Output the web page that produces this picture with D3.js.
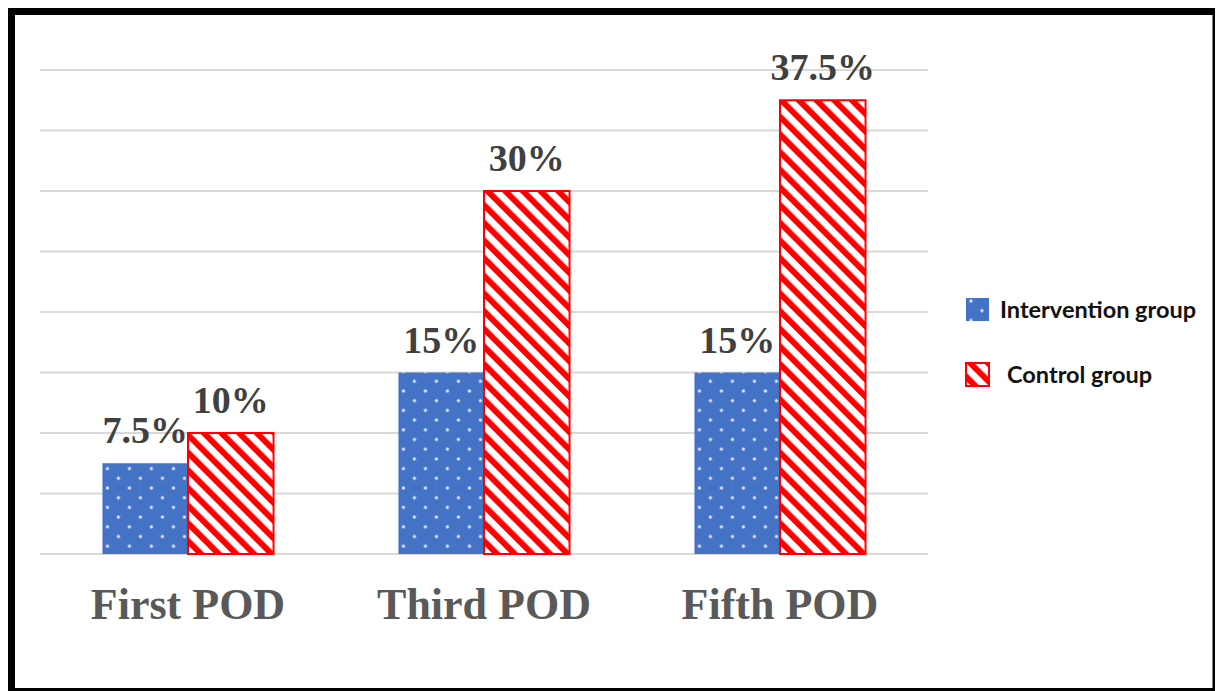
<!DOCTYPE html>
<html>
<head>
<meta charset="utf-8">
<script src="https://cdn.jsdelivr.net/npm/d3@7"></script>
<style>
  body { margin: 0; background: #fff; }
  svg { display: block; }
</style>
</head>
<body>
<svg id="chart" width="1216" height="691"></svg>
<script>
// data
var categories = ["First POD", "Third POD", "Fifth POD"];
var seriesNames = ["Intervention group", "Control group"];
var intervention = [7.5, 15, 15];
var control = [10, 30, 37.5];
var valueLabels = [["7.5%", "15%", "15%"], ["10%", "30%", "37.5%"]];
var gridTicks = [0, 5, 10, 15, 20, 25, 30, 35, 40];

var svg = d3.select("svg#chart"),
  width = +svg.attr("width"),
  height = +svg.attr("height");

var defs = svg.append("defs");

// blue with small white dots
var dots = defs.append("pattern")
  .attr("id", "dots")
  .attr("patternUnits", "userSpaceOnUse")
  .attr("width", 22)
  .attr("height", 19.4)
  .attr("x", 5)
  .attr("y", 3);
dots.append("rect").attr("width", 22).attr("height", 19.4).attr("fill", "#4472c4");
[[0, 0], [22, 0], [0, 19.4], [22, 19.4], [11, 9.7]].forEach(function(p) {
  dots.append("circle").attr("cx", p[0]).attr("cy", p[1]).attr("r", 1.6)
    .attr("fill", "#fff").attr("opacity", 0.85);
});

// red diagonal hatch
var hatch = defs.append("pattern")
  .attr("id", "hatch")
  .attr("patternUnits", "userSpaceOnUse")
  .attr("width", 12.5)
  .attr("height", 12.5)
  .attr("patternTransform", "rotate(-45)");
hatch.append("rect").attr("width", 12.5).attr("height", 12.5).attr("fill", "#fff");
hatch.append("rect").attr("width", 6).attr("height", 12.5).attr("fill", "#ff0000");

var y = d3.scaleLinear().domain([0, 40]).range([554, 70]);

var x0 = d3.scaleBand()
  .domain(categories)
  .range([40, 928])
  .paddingInner(0.422)
  .paddingOuter(0.211);

var x1 = d3.scaleBand()
  .domain(seriesNames)
  .range([0, x0.bandwidth()]);

// gridlines
svg.append("g")
  .selectAll("line")
  .data(gridTicks)
  .enter().append("line")
  .attr("x1", 40)
  .attr("x2", 928)
  .attr("y1", function(d) { return y(d); })
  .attr("y2", function(d) { return y(d); })
  .attr("stroke", "#d9d9d9")
  .attr("stroke-width", 2);

var rows = categories.map(function(c, i) {
  return [
    { cat: c, s: seriesNames[0], v: intervention[i], label: valueLabels[0][i] },
    { cat: c, s: seriesNames[1], v: control[i], label: valueLabels[1][i] }
  ];
});

var groups = svg.append("g")
  .selectAll("g")
  .data(rows)
  .enter().append("g")
  .attr("transform", function(d) { return "translate(" + x0(d[0].cat) + ",0)"; });

groups.selectAll("rect")
  .data(function(d) { return d; })
  .enter().append("rect")
  .attr("x", function(d) { return x1(d.s); })
  .attr("y", function(d) { return y(d.v); })
  .attr("width", x1.bandwidth())
  .attr("height", function(d) { return y(0) - y(d.v); })
  .attr("fill", function(d) { return d.s == seriesNames[0] ? "url(#dots)" : "url(#hatch)"; })
  .attr("stroke", function(d) { return d.s == seriesNames[0] ? "none" : "#ff0000"; })
  .attr("stroke-width", 2);

groups.selectAll("text")
  .data(function(d) { return d; })
  .enter().append("text")
  .attr("x", function(d) { return x1(d.s) + x1.bandwidth() / 2; })
  .attr("y", function(d) { return y(d.v) - 20; })
  .attr("text-anchor", "middle")
  .attr("font-family", "'Liberation Serif', 'Times New Roman', serif")
  .attr("font-weight", "bold")
  .attr("font-size", 38)
  .attr("fill", "#404040")
  .text(function(d) { return d.label; });

// category labels
svg.append("g")
  .selectAll("text")
  .data(categories)
  .enter().append("text")
  .attr("x", function(d) { return x0(d) + x0.bandwidth() / 2; })
  .attr("y", 619)
  .attr("text-anchor", "middle")
  .attr("font-family", "'Liberation Serif', 'Times New Roman', serif")
  .attr("font-weight", "bold")
  .attr("font-size", 44)
  .attr("fill", "#595959")
  .text(function(d) { return d; });

// legend
var legend = svg.append("g")
  .selectAll("g")
  .data(seriesNames)
  .enter().append("g")
  .attr("transform", function(d, i) { return "translate(966," + (298 + i * 65) + ")"; });

legend.append("rect")
  .attr("width", 23)
  .attr("height", 23)
  .attr("fill", function(d, i) { return i == 0 ? "url(#dots)" : "url(#hatch)"; })
  .attr("stroke", function(d, i) { return i == 0 ? "none" : "#ff0000"; })
  .attr("stroke-width", 2);

legend.append("text")
  .attr("x", function(d, i) { return i == 0 ? 34 : 41; })
  .attr("y", 20)
  .attr("font-family", "Lato, 'Open Sans', sans-serif")
  .attr("font-weight", "bold")
  .attr("font-size", 23.5)
  .attr("fill", "#111")
  .text(function(d) { return d; });

// frame
svg.append("rect").attr("x", 8).attr("y", 8).attr("width", 1207).attr("height", 7).attr("fill", "#000");
svg.append("rect").attr("x", 8).attr("y", 8).attr("width", 7).attr("height", 683).attr("fill", "#000");
svg.append("rect").attr("x", 1212.5).attr("y", 8).attr("width", 2.5).attr("height", 683).attr("fill", "#000");
svg.append("rect").attr("x", 8).attr("y", 688).attr("width", 1207).attr("height", 3).attr("fill", "#000");
</script>
</body>
</html>
